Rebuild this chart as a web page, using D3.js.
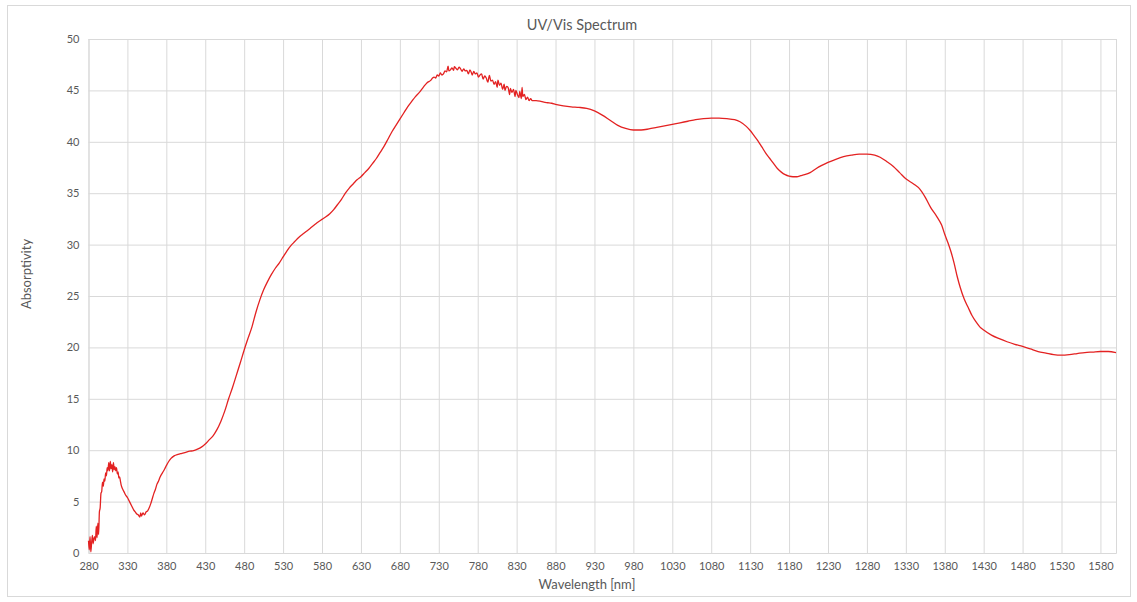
<!DOCTYPE html>
<html>
<head>
<meta charset="utf-8">
<script src="https://cdn.jsdelivr.net/npm/d3@7"></script>
<style>
  html, body { margin: 0; padding: 0; background: #fff; }
  svg { display: block; }
  text { font-family: Lato, "Open Sans", sans-serif; fill: #595959; }
</style>
</head>
<body>
<svg id="chart" width="1137" height="602"></svg>
<script>
const chartTitle = "UV/Vis Spectrum";
const xTitle = "Wavelength [nm]";
const yTitle = "Absorptivity";

const xTicks = d3.range(280, 1581, 50);
const yTicks = [0, 5, 10, 15, 20, 25, 30, 35, 40, 45, 50];

const wavelength = [
  280,281,282,283,284,285,286,287,288,289,290,291,292,293,294,295,296,297,298,299,
  300,301,302,303,304,305,306,307,308,309,310,311,312,313,314,315,316,317,318,319,
  320,321,322,324,326,328,330,332,334,336,338,340,342,344,346,347,348,350,352,354,
  356,358,360,362,364,366,368,370,372,375,378,380,383,386,390,395,400,405,410,415,
  420,425,430,435,440,445,450,455,460,465,470,475,480,485,490,495,500,505,510,515,
  520,525,530,535,540,545,550,555,560,565,570,575,580,585,590,595,600,605,610,615,
  620,625,630,635,640,645,650,655,660,665,670,675,680,685,690,695,700,705,710,715,
  720,722,724,726,728,730,732,734,736,738,740,742,743,745,747,749,750,752,754,756,
  758,760,762,764,766,768,770,772,773,775,777,779,781,783,785,787,789,791,793,795,
  797,799,801,803,805,806,808,810,812,814,815,817,819,821,822,824,826,828,829,831,
  833,834,836,837,838,840,842,844,846,848,850,855,860,865,870,875,880,890,900,910,
  920,930,940,950,960,970,980,990,1000,1010,1020,1030,1040,1050,1060,1070,1080,1090,1100,1110,
  1117,1125,1130,1135,1140,1145,1150,1155,1160,1165,1170,1175,1180,1185,1190,1195,1200,1207,1215,1222,
  1230,1240,1250,1260,1270,1280,1290,1297,1305,1314,1322,1330,1340,1348,1355,1362,1370,1376,1380,1384,
  1388,1392,1396,1400,1405,1410,1415,1420,1425,1430,1440,1450,1460,1470,1480,1490,1500,1510,1520,1530,
  1540,1550,1560,1570,1580,1590,1600
];

const absorptivity = [
  1.2,0.3,1.6,0.1,1.0,1.7,0.9,1.4,1.6,1.2,2.6,1.5,2.9,1.8,4.0,4.4,5.8,6.0,6.9,6.5,
  7.2,7.0,7.8,7.5,8.3,8.0,8.8,8.0,8.9,8.2,8.6,7.9,8.8,8.1,8.4,8.0,8.3,7.7,7.9,7.3,
  7.4,7.0,6.6,6.2,5.9,5.6,5.4,5.1,4.8,4.5,4.2,4.0,3.8,3.7,3.5,3.9,3.6,3.9,3.7,4.0,
  4.1,4.4,4.8,5.3,5.8,6.2,6.7,7.0,7.4,7.8,8.2,8.5,8.9,9.2,9.45,9.6,9.7,9.8,9.9,9.95,
  10.1,10.3,10.6,11.0,11.4,12.0,12.8,13.8,15.0,16.1,17.3,18.5,19.75,20.9,22.0,23.4,24.6,25.6,26.4,27.1,
  27.7,28.2,28.8,29.4,29.9,30.3,30.7,31.0,31.3,31.6,31.9,32.2,32.45,32.7,33.0,33.4,33.9,34.4,35.0,35.5,
  35.9,36.3,36.6,37.0,37.4,37.9,38.4,39.0,39.6,40.3,41.0,41.6,42.2,42.8,43.4,43.9,44.4,44.8,45.3,45.75,
  46.0,46.2,46.3,46.2,46.5,46.4,46.7,46.5,46.6,46.9,46.8,47.35,46.9,47.0,47.2,46.95,47.3,47.15,47.0,47.25,
  47.1,46.85,47.1,46.9,46.95,46.6,47.0,46.7,46.5,46.85,46.6,46.7,46.3,46.5,46.6,46.1,46.4,46.2,45.8,46.45,
  45.9,46.0,45.6,45.85,45.3,46.0,45.5,45.7,45.1,45.6,45.0,45.4,45.3,44.6,45.2,44.8,45.1,44.4,45.0,44.6,
  44.3,44.9,44.2,45.3,44.4,44.6,44.1,44.35,44.0,44.2,44.0,44.0,43.95,43.85,43.8,43.75,43.65,43.5,43.4,43.35,
  43.25,43.0,42.6,42.1,41.6,41.3,41.15,41.15,41.25,41.4,41.55,41.7,41.85,42.0,42.15,42.25,42.3,42.3,42.25,42.15,
  41.95,41.5,41.1,40.6,40.1,39.5,38.9,38.4,37.9,37.4,37.05,36.8,36.65,36.6,36.6,36.7,36.8,37.0,37.4,37.7,
  38.0,38.3,38.55,38.7,38.8,38.8,38.7,38.5,38.1,37.6,37.0,36.4,35.9,35.4,34.6,33.6,32.7,31.9,31.0,30.2,
  29.3,28.2,26.9,25.8,24.7,23.9,23.1,22.5,22.0,21.7,21.2,20.85,20.55,20.3,20.1,19.85,19.6,19.45,19.3,19.25,
  19.3,19.4,19.5,19.55,19.6,19.6,19.5
];

const W = 1137, H = 602;
const plot = { left: 88.5, right: 1116, top: 39, bottom: 553 };
const svg = d3.select("#chart");

// chart area border
svg.append("rect")
  .attr("x", 7.5).attr("y", 5.5)
  .attr("width", 1123).attr("height", 591)
  .attr("fill", "#fff").attr("stroke", "#d9d9d9").attr("stroke-width", 1);

const x = d3.scaleLinear().domain([280, 1600]).range([plot.left, plot.right]);
const y = d3.scaleLinear().domain([0, 50]).range([plot.bottom, plot.top]);

// horizontal gridlines
const yAxis = d3.axisLeft(y).tickValues(yTicks).tickSize(-(plot.right - plot.left)).tickPadding(9).tickFormat(d3.format("d"));
const gy = svg.append("g").attr("transform", `translate(${plot.left},0)`).call(yAxis);
gy.select(".domain").remove();
gy.selectAll(".tick line").attr("stroke", "#d9d9d9").attr("stroke-width", 1);
gy.selectAll(".tick text").attr("font-size", 11).attr("fill", "#595959")
  .style("font-family", "Lato, 'Open Sans', sans-serif");

// vertical gridlines + x labels
const xAxis = d3.axisBottom(x).tickValues(xTicks).tickSize(-(plot.bottom - plot.top)).tickPadding(9).tickFormat(d3.format("d"));
const gx = svg.append("g").attr("transform", `translate(0,${plot.bottom})`).call(xAxis);
gx.select(".domain").attr("stroke", "#d9d9d9");
gx.selectAll(".tick line").attr("stroke", "#d9d9d9").attr("stroke-width", 1);
gx.selectAll(".tick text").attr("font-size", 11).attr("fill", "#595959")
  .style("font-family", "Lato, 'Open Sans', sans-serif");

// line
const data = wavelength.map((w, i) => [w, absorptivity[i]]);
const line = d3.line().x(d => x(d[0])).y(d => y(d[1])).curve(d3.curveMonotoneX);
svg.append("path").datum(data)
  .attr("d", line)
  .attr("fill", "none")
  .attr("stroke", "#e32222")
  .attr("stroke-width", 1.3)
  .attr("stroke-linejoin", "round");

// titles
svg.append("text").attr("x", 582).attr("y", 30).attr("text-anchor", "middle")
  .attr("font-size", 14.5).text(chartTitle);
svg.append("text").attr("x", 587).attr("y", 589).attr("text-anchor", "middle")
  .attr("font-size", 13).text(xTitle);
svg.append("text").attr("transform", "translate(31,274) rotate(-90)").attr("text-anchor", "middle")
  .attr("font-size", 13).text(yTitle);
</script>
</body>
</html>
